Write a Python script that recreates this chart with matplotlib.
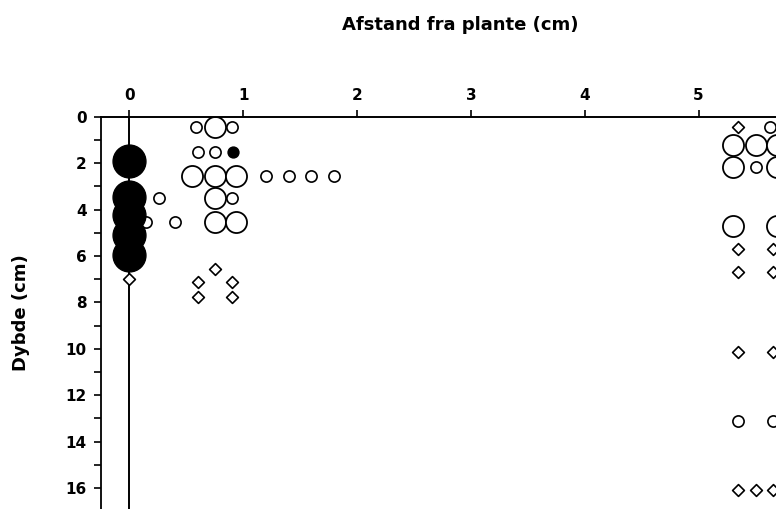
import numpy as np
import matplotlib
matplotlib.use('Agg')
import matplotlib.pyplot as plt

# big filled circles along the plant (x = 0)
big_fill_x = [0, 0, 0, 0, 0]
big_fill_y = [1.9, 3.45, 4.25, 5.1, 5.95]

# small filled circle
small_fill_x = [0.91]
small_fill_y = [1.5]

# large open circles
big_open_x = [0.75, 0.55, 0.75, 0.94, 0.75, 0.75, 0.94,
              5.30, 5.50, 5.69, 5.30, 5.69, 5.30, 5.69]
big_open_y = [0.45, 2.55, 2.55, 2.55, 3.5, 4.55, 4.55,
              1.2, 1.2, 1.2, 2.15, 2.15, 4.7, 4.7]

# small open circles
small_open_x = [0.59, 0.90, 0.60, 0.75, 1.20, 1.40, 1.60, 1.80,
                0.26, 0.90, 0.15, 0.40, 5.50, 5.63, 5.35, 5.65]
small_open_y = [0.45, 0.45, 1.5, 1.5, 2.55, 2.55, 2.55, 2.55,
                3.5, 3.5, 4.55, 4.55, 2.15, 0.43, 13.1, 13.1]

# open diamonds
diam_x = [0, 0.75, 0.60, 0.60, 0.90, 0.90,
          5.35, 5.35, 5.65, 5.35, 5.65, 5.35, 5.65, 5.35, 5.50, 5.65]
diam_y = [7.0, 6.55, 7.1, 7.75, 7.1, 7.75,
          0.43, 5.7, 5.7, 6.7, 6.7, 10.15, 10.15, 16.1, 16.1, 16.1]

xticks = [0, 1, 2, 3, 4, 5]
yticks = [0, 2, 4, 6, 8, 10, 12, 14, 16]

plt.rcParams['font.family'] = 'DejaVu Sans'
fig = plt.figure(figsize=(7.76, 5.09), dpi=100)
ax = fig.add_axes([0.1298, 0.0, 1 - 0.1298, 0.7707])

ax.axvline(0, color='k', lw=1.4, zorder=1)
ax.scatter(big_fill_x, big_fill_y, s=560, c='k', edgecolors='k', zorder=3)
ax.scatter(small_fill_x, small_fill_y, s=60, c='k', edgecolors='k', lw=1.1, zorder=3)
ax.scatter(big_open_x, big_open_y, s=230, facecolors='white', edgecolors='k', lw=1.3, zorder=2)
ax.scatter(small_open_x, small_open_y, s=65, facecolors='white', edgecolors='k', lw=1.2, zorder=2)
ax.scatter(diam_x, diam_y, s=36, marker='D', facecolors='white', edgecolors='k', lw=1.2, zorder=4)

ax.set_xlim(-0.25, 5.68)
ax.set_ylim(16.9, 0)

ax.spines['right'].set_visible(False)
ax.spines['bottom'].set_visible(False)
ax.spines['top'].set_linewidth(1.4)
ax.spines['left'].set_linewidth(1.3)

ax.xaxis.tick_top()
ax.set_xticks(xticks)
ax.set_yticks(yticks)
ax.set_yticks(np.arange(1, 17, 2), minor=True)
ax.tick_params(axis='x', direction='out', length=5, width=1.2, pad=5, labelsize=11)
ax.tick_params(axis='y', which='both', direction='out', length=5, width=1.2, pad=5, labelsize=11)
for lab in ax.get_xticklabels() + ax.get_yticklabels():
    lab.set_fontweight('bold')

fig.text(0.593, 0.951, "Afstand fra plante (cm)", ha='center', va='center',
         fontsize=13, fontweight='bold')
fig.text(0.027, 0.385, "Dybde (cm)", ha='center', va='center', rotation=90,
         fontsize=13, fontweight='bold')

fig.savefig('out.png', dpi=100)
